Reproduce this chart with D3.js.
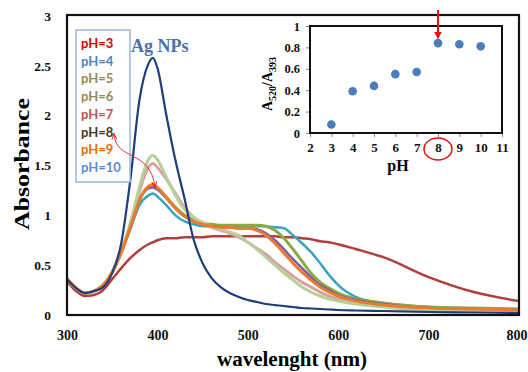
<!DOCTYPE html>
<html lang="en">
<head>
<meta charset="UTF-8" />
<script src="https://d3js.org/d3.v7.min.js"></script>
<style>
  body { margin: 0; background: white; }
  .tk text { font-family: "Liberation Serif", serif; font-weight: bold; }
</style>
</head>
<body>
<div id="chart"></div>
<script>
// wavelength grid (nm) shared by every spectrum
var wavelengths = [300,310,320,330,340,350,360,370,380,390,395,400,410,420,430,440,450,460,470,480,490,500,510,520,530,540,550,560,570,580,590,600,620,650,700,750,800];

// absorbance, one array per curve
var agNPs  = [0.36,0.27,0.22,0.24,0.28,0.42,0.72,1.35,2.15,2.52,2.58,2.48,2.0,1.55,1.17,0.76,0.52,0.37,0.28,0.22,0.18,0.15,0.13,0.11,0.10,0.09,0.08,0.07,0.065,0.06,0.055,0.05,0.045,0.04,0.03,0.025,0.02];
var broad  = [0.34,0.24,0.19,0.20,0.25,0.36,0.47,0.57,0.65,0.71,0.73,0.75,0.77,0.77,0.78,0.78,0.78,0.79,0.79,0.79,0.79,0.79,0.79,0.79,0.79,0.78,0.78,0.77,0.76,0.74,0.73,0.71,0.66,0.58,0.38,0.23,0.14];
var teal   = [0.36,0.27,0.22,0.24,0.30,0.43,0.62,0.86,1.10,1.20,1.22,1.19,1.10,1.0,0.94,0.91,0.89,0.89,0.89,0.89,0.89,0.89,0.89,0.89,0.88,0.87,0.80,0.72,0.63,0.52,0.40,0.30,0.18,0.12,0.08,0.06,0.05];
var olive  = [0.36,0.27,0.22,0.24,0.30,0.43,0.63,0.89,1.16,1.28,1.30,1.27,1.18,1.08,1.0,0.95,0.92,0.91,0.90,0.90,0.90,0.90,0.90,0.89,0.85,0.77,0.66,0.54,0.42,0.33,0.27,0.22,0.16,0.12,0.08,0.07,0.06];
var purple = [0.36,0.27,0.22,0.24,0.30,0.43,0.63,0.88,1.15,1.27,1.28,1.26,1.17,1.07,0.99,0.94,0.91,0.89,0.88,0.88,0.87,0.87,0.86,0.82,0.75,0.66,0.56,0.47,0.38,0.30,0.25,0.20,0.15,0.11,0.07,0.06,0.05];
var pink   = [0.36,0.27,0.22,0.24,0.30,0.43,0.64,0.91,1.24,1.48,1.52,1.48,1.36,1.22,1.08,0.98,0.92,0.88,0.85,0.82,0.78,0.73,0.67,0.61,0.53,0.46,0.39,0.33,0.28,0.23,0.19,0.16,0.12,0.09,0.06,0.05,0.04];
var pale   = [0.36,0.27,0.22,0.24,0.30,0.43,0.64,0.92,1.28,1.56,1.60,1.56,1.38,1.20,1.06,0.98,0.93,0.89,0.86,0.83,0.80,0.73,0.66,0.58,0.50,0.42,0.35,0.28,0.23,0.19,0.16,0.14,0.11,0.08,0.05,0.045,0.04];
var orange = [0.36,0.27,0.22,0.24,0.30,0.43,0.63,0.88,1.15,1.29,1.31,1.28,1.18,1.07,0.99,0.94,0.91,0.89,0.88,0.88,0.87,0.87,0.85,0.80,0.72,0.62,0.52,0.43,0.35,0.28,0.23,0.19,0.14,0.10,0.07,0.06,0.05];

var curves = [
  {v: broad,  c: "#b23e3d", w: 2.5},
  {v: teal,   c: "#3aa3bd", w: 2.5},
  {v: olive,  c: "#86ad45", w: 3},
  {v: purple, c: "#7a5fa3", w: 2.5},
  {v: pink,   c: "#d8a1a1", w: 3},
  {v: pale,   c: "#b5d19a", w: 3},
  {v: orange, c: "#ec7a2c", w: 3},
  {v: agNPs,  c: "#1d3e7d", w: 2.2}
];

var legendLabels = ["pH=3","pH=4","pH=5","pH=6","pH=7","pH=8","pH=9","pH=10"];
var legendColors = ["#d40000","#4f81bd","#948a54","#948a54","#c0504d","#3b3a28","#e46c0a","#558ed5"];

var xTicks = [300,400,500,600,700,800];
var yTicks = [0,0.5,1,1.5,2,2.5,3];

// inset: A520/A393 ratio vs pH
var insetPH    = [3,4,5,6,7,8,9,10];
var insetRatio = [0.08,0.39,0.44,0.55,0.57,0.84,0.83,0.81];
var insetXTicks = [2,3,4,5,6,7,8,9,10,11];
var insetYTicks = [0,0.2,0.4,0.6,0.8,1];

var W = 528, H = 372;
var svg = d3.select("#chart").append("svg")
  .attr("width", W).attr("height", H);

var defs = svg.append("defs");
defs.append("marker").attr("id", "ah").attr("viewBox", "0 0 10 10")
  .attr("refX", 9).attr("refY", 5).attr("markerWidth", 6).attr("markerHeight", 6)
  .attr("orient", "auto-start-reverse")
  .append("path").attr("d", "M0,1 L10,5 L0,9").attr("fill", "none").attr("stroke", "#ee2222").attr("stroke-width", 1.6);
defs.append("marker").attr("id", "ah2").attr("viewBox", "0 0 10 10")
  .attr("refX", 8).attr("refY", 5).attr("markerWidth", 4).attr("markerHeight", 4)
  .attr("orient", "auto")
  .append("path").attr("d", "M0,0 L10,5 L0,10 z").attr("fill", "#e81010");

// main plot
var x = d3.scaleLinear().domain([300, 800]).range([67, 519]);
var y = d3.scaleLinear().domain([0, 3]).range([315, 16]);

var line = d3.line()
  .x(function(d, i) { return x(wavelengths[i]); })
  .y(function(d) { return y(d); })
  .curve(d3.curveMonotoneX);

svg.selectAll("path.spec")
  .data(curves)
  .enter().append("path")
  .attr("class", "spec")
  .attr("d", function(d) { return line(d.v); })
  .attr("fill", "none")
  .attr("stroke", function(d) { return d.c; })
  .attr("stroke-width", function(d) { return d.w; })
  .attr("stroke-linejoin", "round");

svg.append("rect").attr("x", 67).attr("y", 15).attr("width", 452).attr("height", 300)
  .attr("fill", "none").attr("stroke", "#111").attr("stroke-width", 2.2);

var gx = svg.append("g").attr("class", "tk").attr("transform", "translate(0,315)")
  .call(d3.axisBottom(x).tickValues(xTicks).tickSize(0).tickPadding(15).tickFormat(function(d) { return d; }));
gx.select(".domain").remove();
gx.selectAll("text").attr("font-size", 14).attr("fill", "#111");
// last label sits against the right edge of the picture
gx.selectAll("text").filter(function(d) { return d === 800; })
  .attr("text-anchor", "end").attr("dx", 8);

var gy = svg.append("g").attr("class", "tk").attr("transform", "translate(67,0)")
  .call(d3.axisLeft(y).tickValues(yTicks).tickSize(0).tickPadding(16).tickFormat(function(d) { return d; }));
gy.select(".domain").remove();
gy.selectAll("text").attr("font-size", 13.5).attr("fill", "#111");

svg.append("text").attr("transform", "translate(29,164) rotate(-90)")
  .attr("text-anchor", "middle")
  .attr("font-family", "Liberation Serif").attr("font-weight", "bold").attr("font-size", 21)
  .attr("textLength", 132).attr("lengthAdjust", "spacingAndGlyphs")
  .text("Absorbance");

svg.append("text").attr("x", 292).attr("y", 366)
  .attr("text-anchor", "middle")
  .attr("font-family", "Liberation Serif").attr("font-weight", "bold").attr("font-size", 20)
  .attr("textLength", 150).attr("lengthAdjust", "spacingAndGlyphs")
  .text("wavelenght (nm)");

// legend text box
svg.append("rect").attr("x", 76).attr("y", 30).attr("width", 54).attr("height", 152)
  .attr("fill", "white").attr("stroke", "#9ab7da").attr("stroke-width", 1.5);
svg.selectAll("text.leg")
  .data(legendLabels)
  .enter().append("text")
  .attr("class", "leg")
  .attr("x", 81)
  .attr("y", function(d, i) { return 48 + i * 17.7; })
  .attr("font-family", "Lato").attr("font-weight", "bold").attr("font-size", 13)
  .attr("fill", function(d, i) { return legendColors[i]; })
  .text(function(d) { return d; });

svg.append("text").attr("x", 131).attr("y", 52)
  .attr("font-family", "Liberation Serif").attr("font-weight", "bold").attr("font-size", 18)
  .attr("fill", "#4b70a6")
  .text("Ag NPs");

// curved red arrow from the pH=8 label to the peaks
svg.append("path").attr("d", "M114,134 C116,162 150,148 155,187")
  .attr("fill", "none").attr("stroke", "#ee3333").attr("stroke-width", 1)
  .attr("marker-start", "url(#ah)").attr("marker-end", "url(#ah)");

// inset
var ix = d3.scaleLinear().domain([2, 11]).range([310, 502]);
var iy = d3.scaleLinear().domain([0, 1]).range([133, 26]);

var gix = svg.append("g").attr("class", "tk").attr("transform", "translate(0,133)")
  .call(d3.axisBottom(ix).tickValues(insetXTicks).tickSize(4).tickPadding(6).tickFormat(function(d) { return d; }));
gix.select(".domain").remove();
gix.selectAll("line").attr("stroke", "#888");
gix.selectAll("text").attr("font-size", 13).attr("fill", "#111");

var giy = svg.append("g").attr("class", "tk").attr("transform", "translate(310,0)")
  .call(d3.axisLeft(iy).tickValues(insetYTicks).tickSize(4).tickPadding(6).tickFormat(function(d) { return d; }));
giy.select(".domain").remove();
giy.selectAll("line").attr("stroke", "#888");
giy.selectAll("text").attr("font-size", 12.5).attr("fill", "#111");

svg.append("rect").attr("x", 310).attr("y", 26).attr("width", 192).attr("height", 107)
  .attr("fill", "none").attr("stroke", "#111").attr("stroke-width", 2);

svg.selectAll("circle.pt")
  .data(insetRatio)
  .enter().append("circle")
  .attr("class", "pt")
  .attr("cx", function(d, i) { return ix(insetPH[i]); })
  .attr("cy", function(d) { return iy(d); })
  .attr("r", 4.3)
  .attr("fill", "#4a7ebb");

var ylab = svg.append("text").attr("transform", "translate(272,84) rotate(-90)")
  .attr("text-anchor", "middle")
  .attr("font-family", "Liberation Serif").attr("font-weight", "bold").attr("font-size", 14);
ylab.append("tspan").text("A");
ylab.append("tspan").attr("font-size", 10).attr("dy", 4).text("520");
ylab.append("tspan").attr("dy", -4).text("/A");
ylab.append("tspan").attr("font-size", 10).attr("dy", 4).text("393");

svg.append("text").attr("x", 398).attr("y", 171)
  .attr("text-anchor", "middle")
  .attr("font-family", "Liberation Serif").attr("font-weight", "bold").attr("font-size", 16)
  .text("pH");

// red marker arrow and circle at pH 8
svg.append("line").attr("x1", ix(8)).attr("x2", ix(8)).attr("y1", 10).attr("y2", 38)
  .attr("stroke", "#e81010").attr("stroke-width", 2).attr("marker-end", "url(#ah2)");
svg.append("ellipse").attr("cx", ix(8)).attr("cy", 149).attr("rx", 14).attr("ry", 11)
  .attr("fill", "none").attr("stroke", "#e81010").attr("stroke-width", 1.5);
</script>
</body>
</html>
